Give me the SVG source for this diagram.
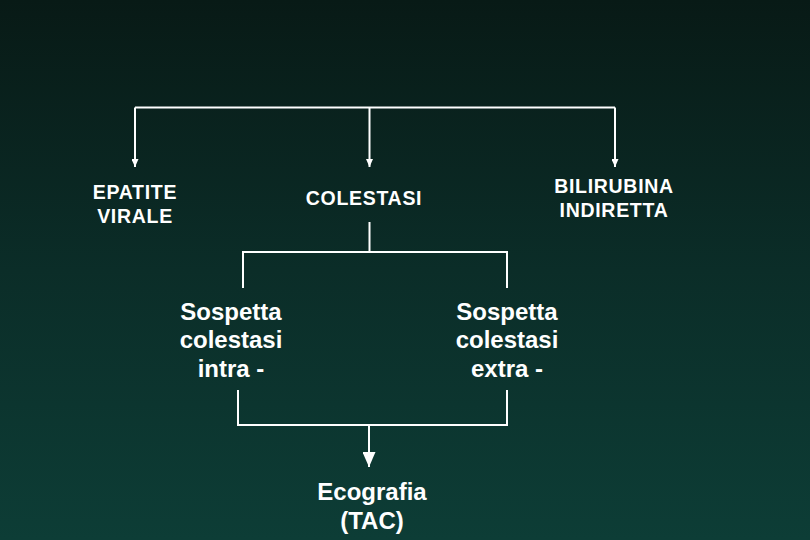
<svg xmlns="http://www.w3.org/2000/svg" width="810" height="540" viewBox="0 0 810 540">
<defs>
<linearGradient id="bg" x1="0" y1="0" x2="0" y2="1">
<stop offset="0" stop-color="#081a16"/>
<stop offset="0.5" stop-color="#0b2d28"/>
<stop offset="1" stop-color="#0d3d36"/>
</linearGradient>
<marker id="sm" viewBox="0 0 8 7" refX="8" refY="3.5" markerWidth="8" markerHeight="7" markerUnits="userSpaceOnUse" orient="auto">
<path d="M0,0 L8,3.5 L0,7 Z" fill="#ffffff"/>
</marker>
<marker id="big" viewBox="0 0 15 13" refX="15" refY="6.5" markerWidth="15" markerHeight="13" markerUnits="userSpaceOnUse" orient="auto">
<path d="M0,0 L15,6.5 L0,13 Z" fill="#ffffff"/>
</marker>
</defs>
<style>
.ln{fill:none;stroke:#ffffff;stroke-width:2}
.t1{font-family:"Liberation Sans",Arial,sans-serif;font-weight:bold;font-size:19.5px;letter-spacing:0.7px;fill:#ffffff;text-anchor:middle}
.t2{font-family:"Liberation Sans",Arial,sans-serif;font-weight:bold;font-size:24px;fill:#ffffff;text-anchor:middle}
</style>
<rect x="0" y="0" width="810" height="540" fill="url(#bg)"/>
<g id="connectors">
<path class="ln" d="M135,107.5 H615"/>
<path class="ln" d="M135,107.5 V167" marker-end="url(#sm)"/>
<path class="ln" d="M369.5,107.5 V167" marker-end="url(#sm)"/>
<path class="ln" d="M615,107.5 V167" marker-end="url(#sm)"/>
<path class="ln" d="M369.5,222 V252 M243,288 V252 H507 V288"/>
<path class="ln" d="M238,390 V425 H507 V390"/>
<path class="ln" d="M369,425 V467" stroke-width="3.5" marker-end="url(#big)"/>
</g>
<g id="epatite">
<text class="t1" x="135" y="199">EPATITE</text>
<text class="t1" x="135" y="223">VIRALE</text>
</g>
<g id="colestasi">
<text class="t1" x="364" y="205">COLESTASI</text>
</g>
<g id="bilirubina">
<text class="t1" x="614" y="193">BILIRUBINA</text>
<text class="t1" x="614" y="217">INDIRETTA</text>
</g>
<g id="intra">
<text class="t2" x="231" y="320">Sospetta</text>
<text class="t2" x="231" y="348">colestasi</text>
<text class="t2" x="231" y="377">intra -</text>
</g>
<g id="extra">
<text class="t2" x="507" y="320">Sospetta</text>
<text class="t2" x="507" y="348">colestasi</text>
<text class="t2" x="507" y="377">extra -</text>
</g>
<g id="ecografia">
<text class="t2" x="372" y="500">Ecografia</text>
<text class="t2" x="372" y="529">(TAC)</text>
</g>
</svg>
